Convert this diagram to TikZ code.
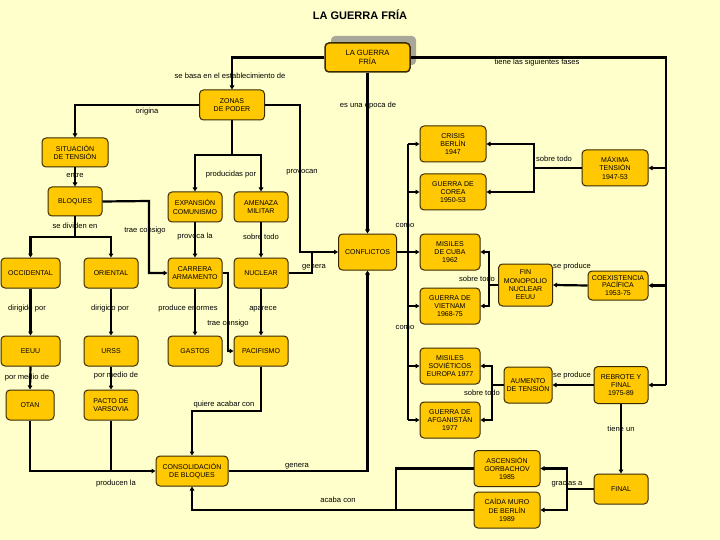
\documentclass[tikz,border=0pt]{standalone}
\usepackage{fontspec}
\setmainfont{Liberation Sans}
\usetikzlibrary{arrows.meta}
\definecolor{bgc}{HTML}{FFFFCC}
\definecolor{boxfill}{HTML}{FFC800}
\definecolor{boxline}{HTML}{3A2A00}
\definecolor{shadowc}{HTML}{A8A89A}
\tikzset{
 box/.style={draw=boxline, fill=boxfill, rounded corners=4pt, line width=1pt, align=center,
   font=\fontsize{7}{8.3}\selectfont, inner sep=0.5pt},
 lbl/.style={font=\fontsize{7.6}{9}\selectfont, inner sep=1pt},
 link/.style={line width=2.2pt, draw=black},
 arr/.style={link, -{Triangle[length=4pt,width=4.5pt]}},
}
\begin{document}
\begin{tikzpicture}[x=1pt,y=-1pt]
\fill[bgc] (0,0) rectangle (720,540);
\useasboundingbox (0,0) rectangle (720,540);

\node[font=\fontsize{11}{13}\selectfont\bfseries] (title) at (360,15) {LA GUERRA FRÍA};

% shadow
\fill[shadowc, rounded corners=4pt] (331,36) rectangle (416,65);

% nodes
\node[box, minimum width=85pt, minimum height=29pt, line width=1.5pt, font=\fontsize{7.6}{9}\selectfont] (lagf) at (367.5,57.5) {LA GUERRA\\FRÍA};
\node[box, minimum width=65pt, minimum height=30pt] (zonas) at (232,105) {ZONAS\\DE PODER};
\node[box, minimum width=66pt, minimum height=29pt] (sit) at (75,152.5) {SITUACIÓN\\DE TENSIÓN};
\node[box, minimum width=54pt, minimum height=29pt] (bloq) at (75,201.5) {BLOQUES};
\node[box, minimum width=54pt, minimum height=30pt] (exp) at (195,207) {EXPANSIÓN\\COMUNISMO};
\node[box, minimum width=54pt, minimum height=30pt] (amen) at (261,207) {AMENAZA\\MILITAR};
\node[box, minimum width=66pt, minimum height=36pt] (crisis) at (453,144) {CRISIS\\BERLÍN\\1947};
\node[box, minimum width=66pt, minimum height=36pt] (corea) at (453,192) {GUERRA DE\\COREA\\1950-53};
\node[box, minimum width=66pt, minimum height=36pt] (maxt) at (615,168) {MÁXIMA\\TENSIÓN\\1947-53};
\node[box, minimum width=58pt, minimum height=36pt] (confl) at (367.5,252) {CONFLICTOS};
\node[box, minimum width=60pt, minimum height=36pt] (cuba) at (450,252) {MISILES\\DE CUBA\\1962};
\node[box, minimum width=59pt, minimum height=30pt] (occ) at (30.5,273) {OCCIDENTAL};
\node[box, minimum width=54pt, minimum height=30pt] (ori) at (111,273) {ORIENTAL};
\node[box, minimum width=54pt, minimum height=30pt] (carr) at (195,273) {CARRERA\\ARMAMENTO};
\node[box, minimum width=54pt, minimum height=30pt] (nuc) at (261,273) {NUCLEAR};
\node[box, minimum width=54pt, minimum height=42pt] (fin) at (525.5,285) {FIN\\MONOPOLIO\\NUCLEAR\\EEUU};
\node[box, minimum width=60pt, minimum height=29pt, font=\fontsize{7}{7.8}\selectfont] (coex) at (618,285.5) {COEXISTENCIA\\PACÍFICA\\1953-75};
\node[box, minimum width=60pt, minimum height=36pt] (viet) at (450,306) {GUERRA DE\\VIETNAM\\1968-75};
\node[box, minimum width=59pt, minimum height=30pt] (eeuu) at (30.5,351) {EEUU};
\node[box, minimum width=54pt, minimum height=30pt] (urss) at (111,351) {URSS};
\node[box, minimum width=54pt, minimum height=30pt] (gastos) at (195,351) {GASTOS};
\node[box, minimum width=54pt, minimum height=30pt] (paci) at (261,351) {PACIFISMO};
\node[box, minimum width=60pt, minimum height=36pt] (msov) at (450,366) {MISILES\\SOVIÉTICOS\\EUROPA 1977};
\node[box, minimum width=48pt, minimum height=36pt] (aum) at (528,385) {AUMENTO\\DE TENSIÓN};
\node[box, minimum width=54pt, minimum height=37pt] (reb) at (621,385) {REBROTE Y\\FINAL\\1975-89};
\node[box, minimum width=48pt, minimum height=30pt] (otan) at (30,405) {OTAN};
\node[box, minimum width=54pt, minimum height=30pt] (pacto) at (111,405) {PACTO DE\\VARSOVIA};
\node[box, minimum width=60pt, minimum height=36pt] (afg) at (450,420) {GUERRA DE\\AFGANISTÁN\\1977};
\node[box, minimum width=72pt, minimum height=30pt] (cons) at (192,471) {CONSOLIDACIÓN\\DE BLOQUES};
\node[box, minimum width=66pt, minimum height=36pt] (asc) at (507,468.5) {ASCENSIÓN\\GORBACHOV\\1985};
\node[box, minimum width=54pt, minimum height=30pt] (final) at (621,489) {FINAL};
\node[box, minimum width=66pt, minimum height=36pt] (caida) at (507,510) {CAÍDA MURO\\DE BERLÍN\\1989};

% coordinates
\coordinate (fb) at (666,385);
\coordinate (zp) at (232,155);
\coordinate (pv) at (300,252);
\coordinate (gn) at (312,252);
\coordinate (bd) at (75,237);
\coordinate (tc) at (149,201);
\coordinate (cb1) at (408,144);
\coordinate (cb2) at (408,420);
\coordinate (mb) at (534,168);
\coordinate (fb2) at (489,285);
\coordinate (ab) at (492,385);
\coordinate (gb) at (567,489);
\coordinate (ac) at (396,510);
\coordinate (cp) at (228,273);
\coordinate (pc) at (261,411);

% connectors
\draw[arr] (lagf.west) -| (zonas.north);
\draw[link] (lagf.east) -| (fb);
\draw[arr] (fb |- maxt.east) -- (maxt.east);
\draw[arr] (fb |- coex.east) -- (coex.east);
\draw[arr] (fb) -- (reb.east);
\draw[arr] (lagf.south) -- (lagf.south |- confl.north);
\draw[arr] (zonas.west) -| (sit.north);
\draw[link] (zonas.south) -- (zp);
\draw[arr] (zp) -| (exp.north);
\draw[arr] (zp) -| (amen.north);
\draw[arr] (zonas.east) -| (pv) -- (confl.west);
\draw[link] (nuc.east) -| (gn);
\draw[arr] (sit.south) -- (bloq.north);
\draw[link] (bloq.south) -- (bd);
\draw[arr] (bd) -| (occ.north);
\draw[arr] (bd) -| (ori.north);
\draw[arr] (bloq.east) -- (tc) |- (carr.west);
\draw[arr] (exp.south) -- (carr.north);
\draw[arr] (amen.south) -- (nuc.north);
\draw[arr] (confl.east) -- (cuba.west);
\draw[link] (cb1) -- (cb2);
\draw[arr] (cb1) -- (crisis.west);
\draw[arr] (cb1 |- corea.west) -- (corea.west);
\draw[arr] (cb1 |- viet.west) -- (viet.west);
\draw[arr] (cb1 |- msov.west) -- (msov.west);
\draw[arr] (cb2) -- (afg.west);
\draw[link] (maxt.west) -- (mb);
\draw[arr] (mb) |- (crisis.east);
\draw[arr] (mb) |- (corea.east);
\draw[link] (fin.west) -- (fb2);
\draw[arr] (fb2) |- (cuba.east);
\draw[arr] (fb2) |- (viet.east);
\draw[arr] (coex.west) -- (fin.east);
\draw[arr] (reb.west) -- (aum.east);
\draw[link] (aum.west) -- (ab);
\draw[arr] (ab) |- (msov.east);
\draw[arr] (ab) |- (afg.east);
\draw[arr] (reb.south) -- (final.north);
\draw[link] (final.west) -- (gb);
\draw[arr] (gb) |- (asc.east);
\draw[arr] (gb) |- (caida.east);
\draw[link] (asc.west) -| (ac);
\draw[arr] (caida.west) -| (cons.south);
\draw[arr] (cons.east) -| (confl.south);
\draw[arr] (occ.south) -- (eeuu.north);
\draw[arr] (ori.south) -- (urss.north);
\draw[arr] (eeuu.south) -- (otan.north);
\draw[arr] (urss.south) -- (pacto.north);
\draw[arr] (carr.south) -- (gastos.north);
\draw[arr] (nuc.south) -- (paci.north);
\draw[arr] (carr.east) -- (cp) |- (paci.west);
\draw[arr] (paci.south) -- (pc) -| (cons.north);
\draw[arr] (otan.south) |- (cons.west);
\draw[link] (pacto.south) -- (pacto.south |- cons.west);

% labels
\node[lbl] (l1) at (230,76) {se basa en el establecimiento de};
\node[lbl] (l2) at (537,63) {tiene las siguientes fases};
\node[lbl] (l3) at (368,105) {es una época de};
\node[lbl] (l4) at (147,112) {origina};
\node[lbl] (l5) at (231,175) {producidas por};
\node[lbl] (l6) at (302,172) {provocan};
\node[lbl] (l7) at (75,175) {entre};
\node[lbl] (l8) at (75,226) {se dividen en};
\node[lbl] (l9) at (145,231) {trae consigo};
\node[lbl] (l10) at (195,237) {provoca la};
\node[lbl] (l11) at (261,237) {sobre todo};
\node[lbl] (l12) at (314,267) {genera};
\node[lbl] (l13) at (405,225) {como};
\node[lbl] (l14) at (405,327) {como};
\node[lbl] (l15) at (554,159) {sobre todo};
\node[lbl] (l16) at (477,279) {sobre todo};
\node[lbl] (l17) at (572,267) {se produce};
\node[lbl] (l18) at (572,376) {se produce};
\node[lbl] (l19) at (482,393) {sobre todo};
\node[lbl] (l20) at (621,429) {tiene un};
\node[lbl] (l21) at (567,484) {gracias a};
\node[lbl] (l22) at (27,309) {dirigido por};
\node[lbl] (l23) at (110,309) {dirigido por};
\node[lbl] (l24) at (27,378) {por medio de};
\node[lbl] (l25) at (116,376) {por medio de};
\node[lbl] (l26) at (188,309) {produce enormes};
\node[lbl] (l27) at (263,309) {aparece};
\node[lbl] (l28) at (228,324) {trae consigo};
\node[lbl] (l29) at (224,405) {quiere acabar con};
\node[lbl] (l30) at (116,484) {producen la};
\node[lbl] (l31) at (297,466) {genera};
\node[lbl] (l32) at (338,500) {acaba con};
\end{tikzpicture}
\end{document}
